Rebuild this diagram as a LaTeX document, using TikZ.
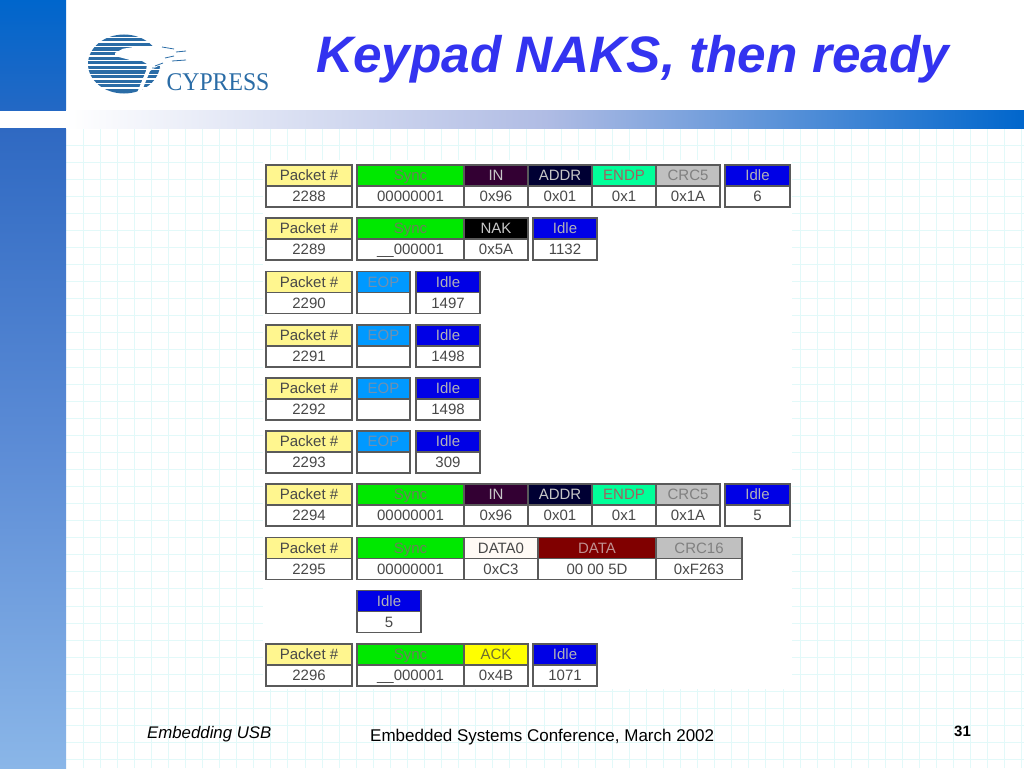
\documentclass[tikz,border=0pt]{standalone}
\usepackage{fontspec}
\setmainfont{Liberation Sans}
\newfontfamily\logofont[FakeStretch=0.93]{Liberation Serif}
\usepackage{tikz}
\usetikzlibrary{positioning}

\definecolor{slideblue}{HTML}{0066CC}
\definecolor{barblue}{HTML}{2F69C2}
\definecolor{barmid}{HTML}{5C8CD6}
\definecolor{barlight}{HTML}{8AB6E8}
\definecolor{stripmid}{HTML}{B0BCE4}
\definecolor{gridcyan}{HTML}{E2F9F9}
\definecolor{titleblue}{HTML}{3333F0}
\definecolor{logoblue}{HTML}{2A6CA6}
\definecolor{cellline}{HTML}{5A5A5A}
\definecolor{cellink}{HTML}{484848}
\definecolor{packetfill}{HTML}{FFF68F}
\definecolor{syncfill}{HTML}{00E800}
\definecolor{synctext}{HTML}{6B7F5A}
\definecolor{infill}{HTML}{330033}
\definecolor{addrfill}{HTML}{000033}
\definecolor{endpfill}{HTML}{00FF99}
\definecolor{endptext}{HTML}{A06060}
\definecolor{crcfill}{HTML}{C0C0C0}
\definecolor{crctext}{HTML}{808080}
\definecolor{idlefill}{HTML}{0000E6}
\definecolor{idletext}{HTML}{B0B0B8}
\definecolor{eopfill}{HTML}{0099FF}
\definecolor{eoptext}{HTML}{7090B0}
\definecolor{datafill}{HTML}{800000}
\definecolor{datatext}{HTML}{C09090}
\definecolor{ackfill}{HTML}{FFFF00}
\definecolor{acktext}{HTML}{707030}

\tikzset{
cell/.style = {draw=cellline, line width=1.2pt, inner sep=0pt, outer sep=0pt, minimum height=21pt, text height=10.5pt, text depth=0pt, anchor=north west, font=\fontsize{15}{15}\selectfont},
packet/.style = {fill=packetfill, text=cellink},
valcell/.style = {fill=white, text=cellink},
sync/.style = {fill=syncfill, text=synctext},
pid/.style = {fill=#1, text=black!22},
endp/.style = {fill=endpfill, text=endptext},
crc/.style = {fill=crcfill, text=crctext},
idle/.style = {fill=idlefill, text=idletext},
eop/.style = {fill=eopfill, text=eoptext},
datazero/.style = {fill=orange!4, text=cellink},
data/.style = {fill=datafill, text=datatext},
ack/.style = {fill=ackfill, text=acktext},
}

% one block of the trace: name, corner, width, look, top text, bottom text
\newcommand{\pktcell}[6]{
\node (#1h) at (#2)[cell,#4,minimum width=#3pt] {#5};
\node (#1v) at (#1h.south west)[cell,valcell,minimum width=#3pt] {#6};
}

\begin{document}
\begin{tikzpicture}
[x=1pt,y=-1pt]
\useasboundingbox (0,0) rectangle (1024,768);

% slide background
\fill[white] (0,0) rectangle (1024,768);
\foreach \gx in {1,...,56} \draw[gridcyan,line width=0.9pt] ({66+\gx*17.07},128) -- ({66+\gx*17.07},768);
\foreach \gy in {1,...,37} \draw[gridcyan,line width=0.9pt] (66,{128+\gy*17.07}) -- (1024,{128+\gy*17.07});
\shade[top color=slideblue,bottom color=barblue!75!slideblue] (0,0) rectangle (66,110);
\shade[top color=barblue,bottom color=barlight,middle color=barmid] (0,128) rectangle (66,768);
\shade[left color=white,right color=slideblue,middle color=stripmid] (66,110) rectangle (1024,128);
\fill[white] (263,160) rectangle (792,689);

% logo
\fill[logoblue] (124,64) ellipse (36 and 29.5);
\foreach \sy in {37.5,42.1,...,92} \draw[white,line width=1.5pt] (85,\sy) -- (170,\sy);
\fill[white] (115,53) -- (123,48.7) -- (140,46) -- (155,47) -- (168,50) -- (183,52) -- (175,55) -- (177,60) -- (187,62) -- (170,64) -- (158,66)
 -- (150,71) -- (141,93) -- (137,93) -- (146,71) -- (147,64) -- (142,61) -- (130,60) -- (115,56) -- cycle;
\draw[logoblue,line width=0.8pt] (162,47) -- (174,49) (176,52) -- (186,51) (165,58) -- (174,56) (172,61) -- (186,60) (155,66) -- (163,63) (152,68) -- (160,68);
\node (logotext) at (218,82)[text=logoblue,inner sep=0pt,font=\logofont\fontsize{25.5}{25.5}\selectfont] {CYPRESS};

% title and footer
\node (title) at (316,72)[anchor=base west,inner sep=0pt,text=titleblue,font=\fontsize{51.3}{51}\selectfont\bfseries\itshape] {Keypad NAKS, then ready};
\node (footleft) at (147,738)[anchor=base west,inner sep=0pt,font=\fontsize{16.8}{17}\selectfont\itshape] {Embedding USB};
\node (footmid) at (370,741)[anchor=base west,inner sep=0pt,font=\fontsize{17}{17}\selectfont] {Embedded Systems Conference, March 2002};
\node (footnum) at (954,736)[anchor=base west,inner sep=0pt,font=\fontsize{15}{15}\selectfont\bfseries] {31};

% packet 2288
\pktcell{a}{266,165}{86}{packet}{Packet \#}{2288}
\pktcell{async}{357,165}{107}{sync}{Sync}{00000001}
\pktcell{ain}{464,165}{64}{pid=infill}{IN}{0x96}
\pktcell{aaddr}{528,165}{64}{pid=addrfill}{ADDR}{0x01}
\pktcell{aendp}{592,165}{64}{endp}{ENDP}{0x1}
\pktcell{acrc}{656,165}{64}{crc}{CRC5}{0x1A}
\pktcell{aidle}{725,165}{65}{idle}{Idle}{6}
% packet 2289
\pktcell{b}{266,218}{86}{packet}{Packet \#}{2289}
\pktcell{bsync}{357,218}{107}{sync}{Sync}{\_\_000001}
\pktcell{bnak}{464,218}{64}{pid=black}{NAK}{0x5A}
\pktcell{bidle}{533,218}{64}{idle}{Idle}{1132}
% packet 2290
\pktcell{c}{266,271.5}{86}{packet}{Packet \#}{2290}
\pktcell{ceop}{357,271.5}{53}{eop}{EOP}{}
\pktcell{cidle}{416,271.5}{64}{idle}{Idle}{1497}
% packet 2291
\pktcell{d}{266,325}{86}{packet}{Packet \#}{2291}
\pktcell{deop}{357,325}{53}{eop}{EOP}{}
\pktcell{didle}{416,325}{64}{idle}{Idle}{1498}
% packet 2292
\pktcell{e}{266,378}{86}{packet}{Packet \#}{2292}
\pktcell{eeop}{357,378}{53}{eop}{EOP}{}
\pktcell{eidle}{416,378}{64}{idle}{Idle}{1498}
% packet 2293
\pktcell{f}{266,431}{86}{packet}{Packet \#}{2293}
\pktcell{feop}{357,431}{53}{eop}{EOP}{}
\pktcell{fidle}{416,431}{64}{idle}{Idle}{309}
% packet 2294
\pktcell{g}{266,484}{86}{packet}{Packet \#}{2294}
\pktcell{gsync}{357,484}{107}{sync}{Sync}{00000001}
\pktcell{gin}{464,484}{64}{pid=infill}{IN}{0x96}
\pktcell{gaddr}{528,484}{64}{pid=addrfill}{ADDR}{0x01}
\pktcell{gendp}{592,484}{64}{endp}{ENDP}{0x1}
\pktcell{gcrc}{656,484}{64}{crc}{CRC5}{0x1A}
\pktcell{gidle}{725,484}{65}{idle}{Idle}{5}
% packet 2295
\pktcell{h}{266,537.5}{86}{packet}{Packet \#}{2295}
\pktcell{hsync}{357,537.5}{107}{sync}{Sync}{00000001}
\pktcell{hpid}{464,537.5}{74}{datazero}{DATA0}{0xC3}
\pktcell{hdata}{538,537.5}{118}{data}{DATA}{00 00 5D}
\pktcell{hcrc}{656,537.5}{86}{crc}{CRC16}{0xF263}
\pktcell{iidle}{357,590.5}{64}{idle}{Idle}{5}
% packet 2296
\pktcell{j}{266,644}{86}{packet}{Packet \#}{2296}
\pktcell{jsync}{357,644}{107}{sync}{Sync}{\_\_000001}
\pktcell{jack}{464,644}{64}{ack}{ACK}{0x4B}
\pktcell{jidle}{533,644}{64}{idle}{Idle}{1071}
\end{tikzpicture}
\end{document}
